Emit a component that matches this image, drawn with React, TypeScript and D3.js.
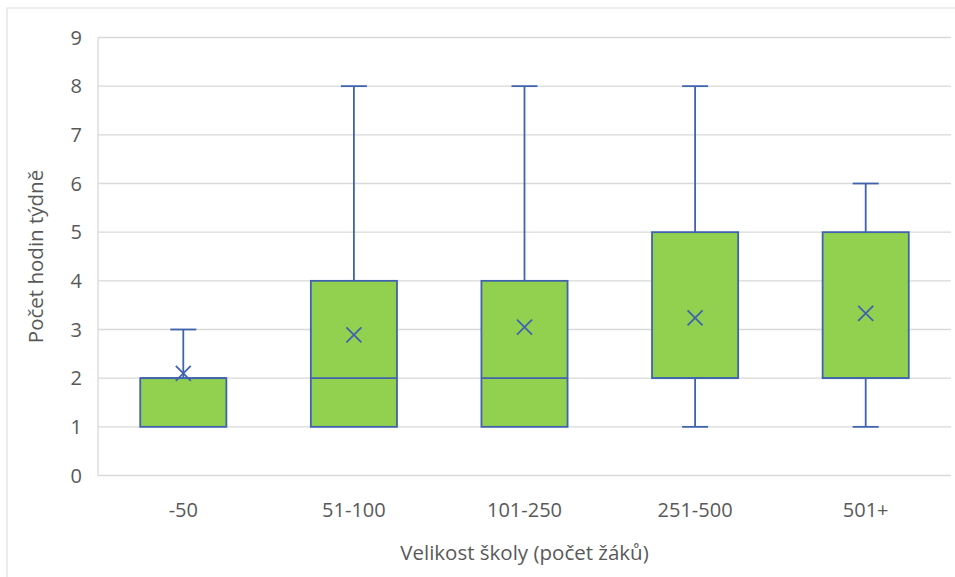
import React from "react";
import * as d3 from "d3";

const categories = ["-50", "51-100", "101-250", "251-500", "501+"];
const minValues = [1, 1, 1, 1, 1];
const q1Values = [1, 1, 1, 2, 2];
const medianValues = [2, 2, 2, 2, 2];
const q3Values = [2, 4, 4, 5, 5];
const maxValues = [3, 8, 8, 8, 6];
const meanValues = [2.1, 2.89, 3.05, 3.24, 3.33];
const yTicks = [0, 1, 2, 3, 4, 5, 6, 7, 8, 9];

const W = 955;
const H = 577;
const plot = { left: 98, right: 951, top: 37.5, bottom: 475.5 };
const FILL = "#92D050";
const STROKE = "#3F63AD";
const TEXT = "#595959";
const GRID = "#D9D9D9";
const FONT = "'Open Sans', 'Noto Sans', sans-serif";

export default function App() {
  const x = d3
    .scaleBand<string>()
    .domain(categories)
    .range([plot.left, plot.right])
    .paddingInner(0)
    .paddingOuter(0);
  const y = d3.scaleLinear().domain([0, 9]).range([plot.bottom, plot.top]);
  const boxW = x.bandwidth() * 0.505;
  const capW = 26;
  const mk = 7.5;

  return (
    <svg
      width={W}
      height={H}
      style={{ position: "absolute", left: 0, top: 0, background: "#fff" }}
    >
      <rect x={7} y={8} width={W + 20} height={H + 20} fill="#fff" stroke="#D9D9D9" strokeWidth={1} />
      {yTicks.map((t) => (
        <line
          key={"g" + t}
          x1={plot.left}
          x2={plot.right}
          y1={y(t)}
          y2={y(t)}
          stroke={GRID}
          strokeWidth={1.3}
        />
      ))}
      <line x1={plot.left} x2={plot.left} y1={plot.top} y2={plot.bottom} stroke={GRID} strokeWidth={1.3} />
      {yTicks.map((t) => (
        <text
          key={"t" + t}
          x={82}
          y={y(t)}
          dy="0.36em"
          textAnchor="end"
          fontFamily={FONT}
          fontSize={20}
          fill={TEXT}
        >
          {t}
        </text>
      ))}
      {categories.map((c, i) => {
        const cx = (x(c) as number) + x.bandwidth() / 2;
        return (
          <g key={c}>
            <line x1={cx} x2={cx} y1={y(maxValues[i])} y2={y(q3Values[i])} stroke={STROKE} strokeWidth={1.8} />
            <line x1={cx} x2={cx} y1={y(q1Values[i])} y2={y(minValues[i])} stroke={STROKE} strokeWidth={1.8} />
            <line x1={cx - capW / 2} x2={cx + capW / 2} y1={y(maxValues[i])} y2={y(maxValues[i])} stroke={STROKE} strokeWidth={1.8} />
            {minValues[i] < q1Values[i] && (
              <line x1={cx - capW / 2} x2={cx + capW / 2} y1={y(minValues[i])} y2={y(minValues[i])} stroke={STROKE} strokeWidth={1.8} />
            )}
            <rect
              x={cx - boxW / 2}
              y={y(q3Values[i])}
              width={boxW}
              height={y(q1Values[i]) - y(q3Values[i])}
              fill={FILL}
              stroke={STROKE}
              strokeWidth={1.8}
            />
            <line
              x1={cx - boxW / 2}
              x2={cx + boxW / 2}
              y1={y(medianValues[i])}
              y2={y(medianValues[i])}
              stroke={STROKE}
              strokeWidth={1.8}
            />
            <path
              d={`M${cx - mk},${y(meanValues[i]) - mk}L${cx + mk},${y(meanValues[i]) + mk}M${cx - mk},${y(meanValues[i]) + mk}L${cx + mk},${y(meanValues[i]) - mk}`}
              stroke={STROKE}
              strokeWidth={1.8}
              fill="none"
            />
            <text x={cx} y={510} dy="0.36em" textAnchor="middle" fontFamily={FONT} fontSize={20} fill={TEXT}>
              {c}
            </text>
          </g>
        );
      })}
      <text
        x={(plot.left + plot.right) / 2}
        y={553}
        dy="0.36em"
        textAnchor="middle"
        fontFamily={FONT}
        fontSize={20.5}
        fill={TEXT}
      >
        Velikost školy (počet žáků)
      </text>
      <text
        transform={`translate(36,${(plot.top + plot.bottom) / 2}) rotate(-90)`}
        dy="0.36em"
        textAnchor="middle"
        fontFamily={FONT}
        fontSize={20.5}
        fill={TEXT}
      >
        Počet hodin týdně
      </text>
    </svg>
  );
}
